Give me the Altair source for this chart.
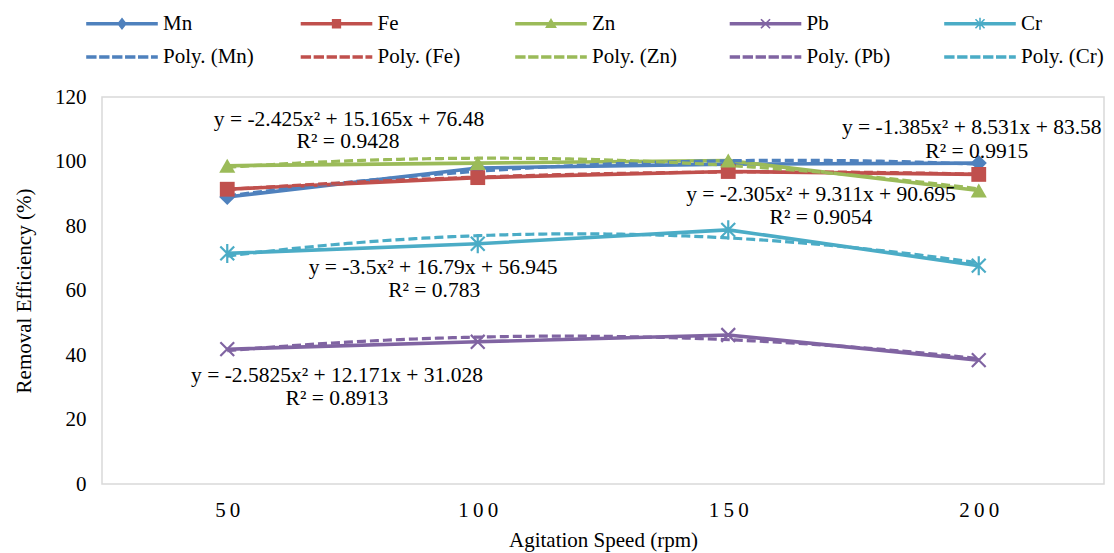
import altair as alt
import pandas as pd

# ---------------- data ----------------
speeds = [50, 100, 150, 200]
metals = ["Mn", "Fe", "Zn", "Pb", "Cr"]
mn = [89.0, 98.0, 99.2, 99.5]
fe = [91.4, 95.0, 96.9, 96.0]
zn = [98.7, 99.5, 100.3, 91.0]
pb = [41.8, 44.1, 46.2, 38.4]
cr = [71.5, 74.5, 78.8, 67.7]

colors = ["#4F81BD", "#C0504D", "#9BBB59", "#8064A2", "#4BACC6"]
poly_names = ["Poly. (Mn)", "Poly. (Fe)", "Poly. (Zn)", "Poly. (Pb)", "Poly. (Cr)"]

eq_text = [
    "y = -2.425x² + 15.165x + 76.48", "R² = 0.9428",
    "y = -1.385x² + 8.531x + 83.58", "R² = 0.9915",
    "y = -2.305x² + 9.311x + 90.695", "R² = 0.9054",
    "y = -3.5x² + 16.79x + 56.945", "R² = 0.783",
    "y = -2.5825x² + 12.171x + 31.028", "R² = 0.8913",
]
eq_x = [74.3, 74.1, 198.6, 199.6, 168.5, 168.5, 91.1, 91.3, 71.9, 71.9]
eq_y = [112.9, 106.0, 110.4, 103.0, 89.6, 82.5, 67.0, 59.8, 33.5, 26.4]

# ---------------- tables ----------------
values = {"Mn": mn, "Fe": fe, "Zn": zn, "Pb": pb, "Cr": cr}
rows = []
for m in metals:
    for s, v in zip(speeds, values[m]):
        rows.append({"metal": m, "series": m, "speed": s, "value": v})
df = pd.DataFrame(rows)
ann = pd.DataFrame({"text": eq_text, "x": eq_x, "y": eq_y})

FONT = "Liberation Serif"
series_domain = metals + poly_names
series_range = colors + colors
# plot colour scale (paired order, so it stays separate from the legend's scales)
plot_domain = [s for pair in zip(metals, poly_names) for s in pair]
plot_range = [c for c in colors for _ in range(2)]

# legend-only table: entries have no position, so nothing is drawn in the plot
legend_df = pd.DataFrame({"series": series_domain,
                          "speed": [None] * len(series_domain),
                          "value": [None] * len(series_domain)})

# legend symbols: line (x from -1 to 3) + marker centred at x=1, as thin filled shapes
T = 0.057
LINE = f"M-1,-{T}H3V{T}H-1Z"
dash_spans = [(-1, -0.5), (-0.26, 0.24), (0.48, 0.98), (1.22, 1.72), (1.96, 2.46), (2.7, 3)]
DASH = "".join(f"M{a},-{T}H{b}V{T}H{a}Z" for a, b in dash_spans)
legend_shapes = [
    LINE + "M1,-0.28L1.22,0L1,0.28L0.78,0Z",
    LINE + "M0.78,-0.22H1.22V0.22H0.78Z",
    LINE + "M1,-0.24L1.26,0.2H0.74Z",
    LINE + "M0.74,-0.26L1.26,0.26M0.74,0.26L1.26,-0.26",
    LINE + "M0.74,-0.26L1.26,0.26M0.74,0.26L1.26,-0.26M1,-0.34V0.34",
] + [DASH] * 5

color_scale = alt.Scale(domain=plot_domain, range=plot_range)
x_enc = alt.X("speed:Q", scale=alt.Scale(domain=[25, 225], nice=False, zero=False),
              axis=alt.Axis(values=speeds, title="Agitation Speed (rpm)",
                            labelExpr="join(split(datum.label, ''), '\u2009')"))
y_enc = alt.Y("value:Q", scale=alt.Scale(domain=[0, 120], nice=False),
              axis=alt.Axis(values=list(range(0, 121, 20)), title="Removal Efficiency (%)"))

base = alt.Chart(df)

lines = base.mark_line(strokeWidth=3.6).encode(
    x=x_enc, y=y_enc,
    color=alt.Color("series:N", scale=color_scale, legend=None),
)

trend = base.transform_regression(
    "speed", "value", groupby=["metal"], method="poly", order=2, extent=[50, 200]
).transform_calculate(
    series='"Poly. (" + datum.metal + ")"'
).mark_line(strokeWidth=3.2, strokeDash=[9, 4]).encode(
    x="speed:Q", y="value:Q",
    color=alt.Color("series:N", scale=color_scale, legend=None),
)

marker_defs = [
    ("Mn", dict(shape="diamond", filled=True, size=260)),
    ("Fe", dict(shape="square", filled=True, size=220)),
    ("Zn", dict(shape="triangle-up", filled=True, size=260)),
    ("Pb", dict(shape="M-1,-1L1,1M-1,1L1,-1", filled=False, size=190, strokeWidth=2.2)),
    ("Cr", dict(shape="M-0.8,-0.8L0.8,0.8M-0.8,0.8L0.8,-0.8M0,-1.1V1.1", filled=False, size=300, strokeWidth=2.2)),
]
marker_layers = []
for m, props in marker_defs:
    marker_layers.append(
        base.transform_filter(alt.datum.metal == m).mark_point(opacity=1, **props).encode(
            x="speed:Q", y="value:Q",
            color=alt.Color("series:N", scale=color_scale, legend=None),
        )
    )

legend_props = dict(
    orient="none", legendX=-16, legendY=-92, columns=5,
    direction="horizontal",
    gridAlign="all", columnPadding=43.5, rowPadding=4.5,
    symbolSize=1225, symbolStrokeWidth=1.6, labelOffset=40,
    labelFont=FONT, labelFontSize=21, labelColor="#000000",
    labelLimit=300, symbolOpacity=1,
)

legend_layer = alt.Chart(legend_df).mark_point(
    opacity=1, size=1225, strokeWidth=1.6
).encode(
    x="speed:Q", y="value:Q",
    stroke=alt.Stroke("series:N", scale=alt.Scale(domain=series_domain, range=series_range),
                      title=None, legend=alt.Legend(**legend_props)),
    fill=alt.Fill("series:N", scale=alt.Scale(domain=series_domain, range=series_range),
                  title=None, legend=alt.Legend(**legend_props)),
    shape=alt.Shape("series:N", scale=alt.Scale(domain=series_domain, range=legend_shapes),
                    title=None, legend=alt.Legend(**legend_props)),
)

labels = alt.Chart(ann).mark_text(
    font=FONT, fontSize=21.5, color="#000000", align="center", baseline="middle"
).encode(x="x:Q", y="y:Q", text="text:N")

chart = alt.layer(lines, trend, *marker_layers, labels, legend_layer).properties(
    width=1002, height=387,
    autosize=alt.AutoSizeParams(type="none"),
    padding={"left": 94, "top": 89, "right": 2, "bottom": 70},
).configure(
    font=FONT
).configure_view(
    stroke="#D9D9D9", strokeWidth=1.5
).configure_axis(
    grid=False, domain=False, ticks=False,
    labelFont=FONT, labelFontSize=21, labelColor="#000000",
    titleFont=FONT, titleFontSize=21, titleColor="#000000", titleFontWeight="normal",
).configure_axisY(
    labelPadding=16, titlePadding=20,
).configure_axisX(
    labelPadding=15, titlePadding=9,
)

chart.save("out.html", embed_options={"renderer": "svg", "actions": False})
